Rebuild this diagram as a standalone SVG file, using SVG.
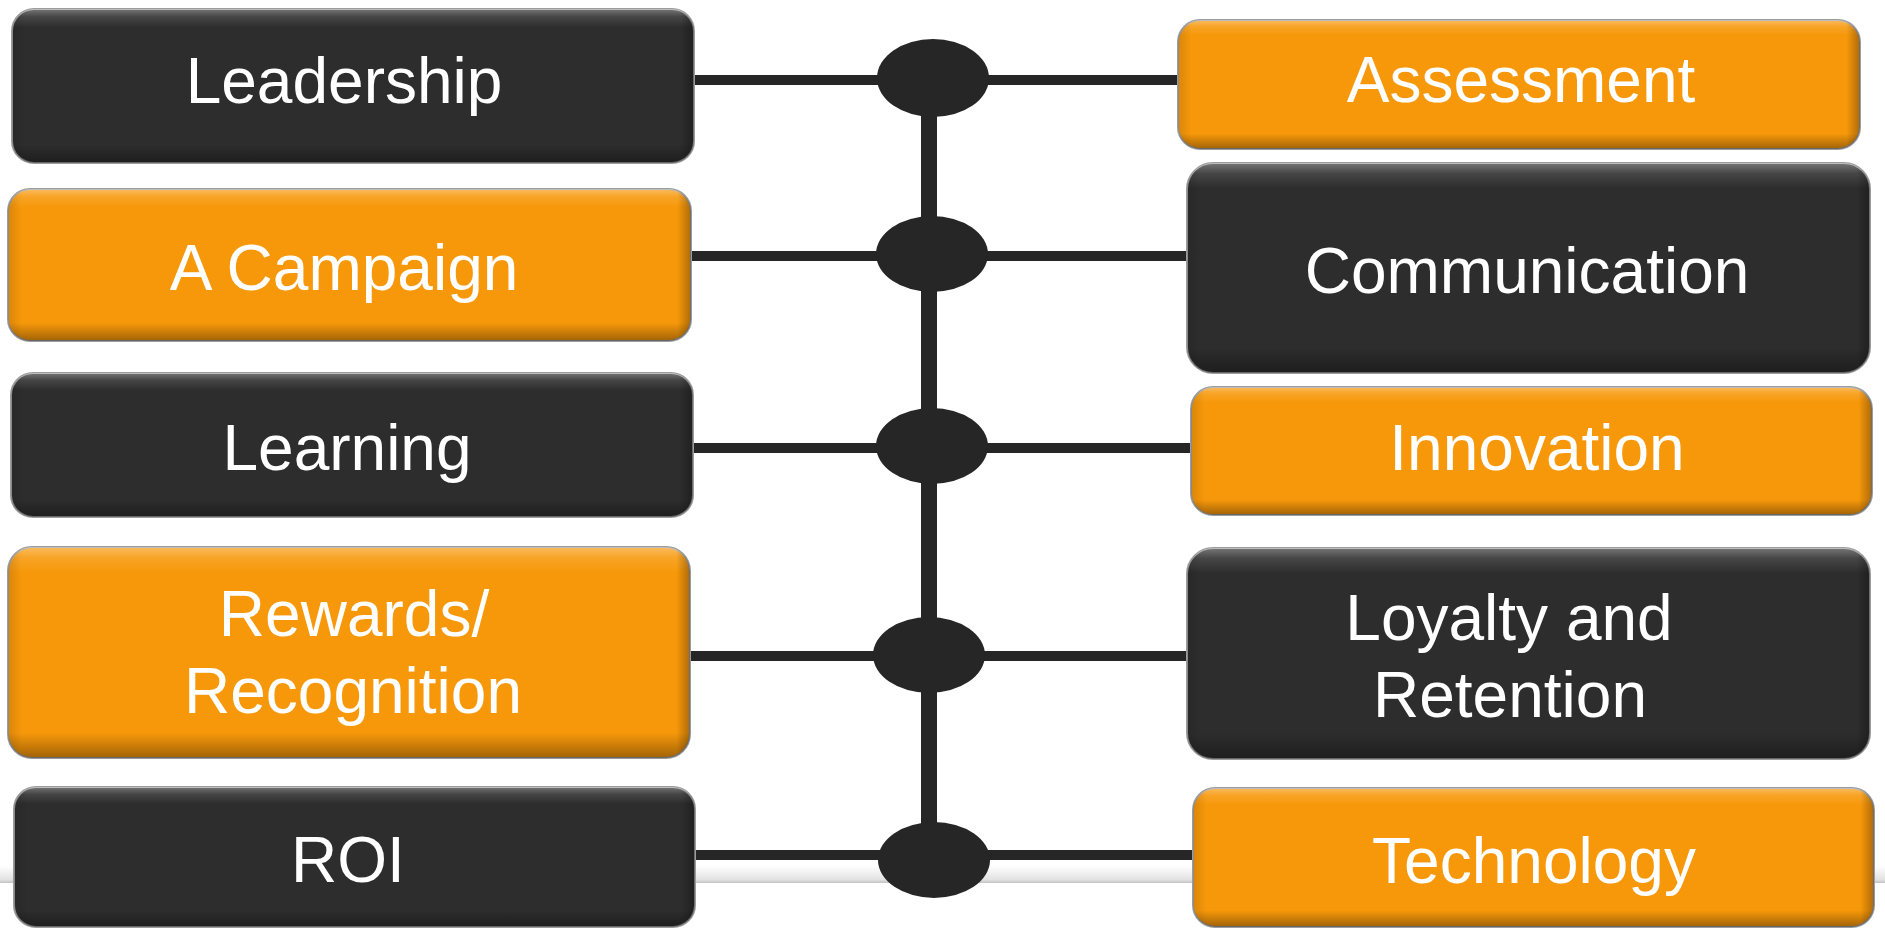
<svg xmlns="http://www.w3.org/2000/svg" width="1885" height="930" viewBox="0 0 1885 930">
  <defs>
    <linearGradient id="bevel" x1="0" y1="0" x2="0" y2="1">
      <stop offset="0" stop-color="#ffffff" stop-opacity="0.35"/>
      <stop offset="0.05" stop-color="#ffffff" stop-opacity="0.12"/>
      <stop offset="0.12" stop-color="#ffffff" stop-opacity="0"/>
      <stop offset="0.88" stop-color="#000000" stop-opacity="0"/>
      <stop offset="1" stop-color="#000000" stop-opacity="0.35"/>
    </linearGradient>
    <linearGradient id="sidebevel" x1="0" y1="0" x2="1" y2="0">
      <stop offset="0" stop-color="#000000" stop-opacity="0.12"/>
      <stop offset="0.02" stop-color="#000000" stop-opacity="0"/>
      <stop offset="0.98" stop-color="#000000" stop-opacity="0"/>
      <stop offset="1" stop-color="#000000" stop-opacity="0.3"/>
    </linearGradient>
    <linearGradient id="band" x1="0" y1="0" x2="0" y2="1">
      <stop offset="0" stop-color="#ffffff"/>
      <stop offset="0.8" stop-color="#e2e2e2"/>
      <stop offset="1" stop-color="#c4c4c4"/>
    </linearGradient>
  </defs>
  <style>
    .box { stroke: #9c9c9c; stroke-width: 2; }
    .dark { fill: #2d2d2d; }
    .orange { fill: #f7980a; }
    .bev { fill: url(#bevel); }
    .side { fill: url(#sidebevel); }
    .label { font-family: "Liberation Sans", Arial, sans-serif; font-size: 64px; fill: #ffffff; text-anchor: middle; }
    .conn line { stroke: #262626; }
    .h { stroke-width: 10; }
    .v { stroke-width: 16; }
    .dot { fill: #262626; }
  </style>
  <rect x="0" y="0" width="1885" height="930" fill="#ffffff"/>
  <rect x="0" y="866" width="1885" height="17" fill="url(#band)"/>

  <g id="connectors" class="conn">
    <line class="v" x1="929" y1="78" x2="929" y2="860"/>
    <line class="h" x1="694" y1="80" x2="1178" y2="80"/>
    <line class="h" x1="691" y1="256" x2="1187" y2="256"/>
    <line class="h" x1="693" y1="448" x2="1191" y2="448"/>
    <line class="h" x1="690" y1="656" x2="1187" y2="656"/>
    <line class="h" x1="695" y1="855" x2="1193" y2="855"/>
    <ellipse class="dot" cx="933" cy="78" rx="56" ry="39"/>
    <ellipse class="dot" cx="932" cy="254" rx="56" ry="38"/>
    <ellipse class="dot" cx="932" cy="446" rx="56" ry="38"/>
    <ellipse class="dot" cx="929" cy="655" rx="56" ry="38"/>
    <ellipse class="dot" cx="934" cy="860" rx="56" ry="38"/>
  </g>

  <g id="leadership">
    <rect class="box dark" x="12" y="9" width="682" height="154" rx="22"/>
    <rect class="bev" x="12" y="9" width="682" height="154" rx="22"/>
    <rect class="side" x="12" y="9" width="682" height="154" rx="22"/>
    <text class="label" x="344" y="103">Leadership</text>
  </g>
  <g id="a-campaign">
    <rect class="box orange" x="8" y="189" width="683" height="152" rx="22"/>
    <rect class="bev" x="8" y="189" width="683" height="152" rx="22"/>
    <rect class="side" x="8" y="189" width="683" height="152" rx="22"/>
    <text class="label" x="344" y="290">A Campaign</text>
  </g>
  <g id="learning">
    <rect class="box dark" x="11" y="373" width="682" height="144" rx="22"/>
    <rect class="bev" x="11" y="373" width="682" height="144" rx="22"/>
    <rect class="side" x="11" y="373" width="682" height="144" rx="22"/>
    <text class="label" x="347" y="470">Learning</text>
  </g>
  <g id="rewards-recognition">
    <rect class="box orange" x="8" y="547" width="682" height="211" rx="24"/>
    <rect class="bev" x="8" y="547" width="682" height="211" rx="24"/>
    <rect class="side" x="8" y="547" width="682" height="211" rx="24"/>
    <text class="label" x="354" y="636">Rewards/</text>
    <text class="label" x="353" y="713">Recognition</text>
  </g>
  <g id="roi">
    <rect class="box dark" x="14" y="787" width="681" height="140" rx="22"/>
    <rect class="bev" x="14" y="787" width="681" height="140" rx="22"/>
    <rect class="side" x="14" y="787" width="681" height="140" rx="22"/>
    <text class="label" x="348" y="882">ROI</text>
  </g>

  <g id="assessment">
    <rect class="box orange" x="1178" y="20" width="682" height="129" rx="22"/>
    <rect class="bev" x="1178" y="20" width="682" height="129" rx="22"/>
    <rect class="side" x="1178" y="20" width="682" height="129" rx="22"/>
    <text class="label" x="1521" y="102">Assessment</text>
  </g>
  <g id="communication">
    <rect class="box dark" x="1187" y="163" width="683" height="210" rx="26"/>
    <rect class="bev" x="1187" y="163" width="683" height="210" rx="26"/>
    <rect class="side" x="1187" y="163" width="683" height="210" rx="26"/>
    <text class="label" x="1527" y="293">Communication</text>
  </g>
  <g id="innovation">
    <rect class="box orange" x="1191" y="387" width="681" height="128" rx="22"/>
    <rect class="bev" x="1191" y="387" width="681" height="128" rx="22"/>
    <rect class="side" x="1191" y="387" width="681" height="128" rx="22"/>
    <text class="label" x="1537" y="470">Innovation</text>
  </g>
  <g id="loyalty-retention">
    <rect class="box dark" x="1187" y="548" width="683" height="211" rx="26"/>
    <rect class="bev" x="1187" y="548" width="683" height="211" rx="26"/>
    <rect class="side" x="1187" y="548" width="683" height="211" rx="26"/>
    <text class="label" x="1509" y="640">Loyalty and</text>
    <text class="label" x="1510" y="717">Retention</text>
  </g>
  <g id="technology">
    <rect class="box orange" x="1193" y="788" width="681" height="139" rx="22"/>
    <rect class="bev" x="1193" y="788" width="681" height="139" rx="22"/>
    <rect class="side" x="1193" y="788" width="681" height="139" rx="22"/>
    <text class="label" x="1534" y="883">Technology</text>
  </g>
</svg>
